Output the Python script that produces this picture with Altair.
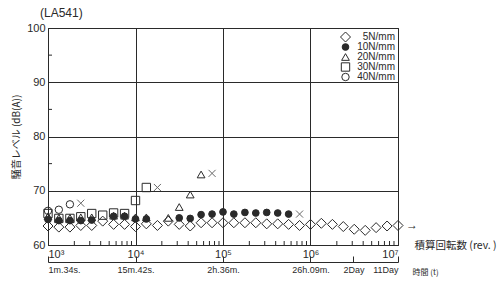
import altair as alt
import pandas as pd

# ---- data ----
rev = [1000, 1330, 1780, 2370, 3160, 4220, 5620, 7500,
       10000, 13300, 17800, 23700, 31600, 42200, 56200, 75000,
       100000, 133000, 178000, 237000, 316000, 422000, 562000, 750000,
       1000000, 1330000, 1780000, 2370000, 3160000, 4220000, 5620000, 7500000,
       10000000]

series_names = ["5N/mm", "10N/mm", "20N/mm", "30N/mm", "40N/mm"]

s5_idx = list(range(33))
s5_val = [63.5, 63.3, 63.3, 63.6, 63.6, 64.4, 63.8, 63.8, 63.4, 63.9, 63.6,
          64.4, 63.8, 63.5, 64.1, 64.1, 64.1, 64.1, 64.1, 64.1, 63.9, 63.9,
          63.8, 63.6, 63.8, 64.0, 63.8, 63.4, 62.9, 62.7, 63.2, 63.5, 63.6]
s10_idx = [0, 1, 2, 3, 4, 6, 7, 8, 9, 12, 13, 14, 15, 16, 17, 18, 19, 20, 21, 22]
s10_val = [64.7, 64.5, 64.5, 64.5, 64.6, 65.3, 65.3, 64.8, 64.8, 65.0, 64.9,
           65.6, 65.7, 66.1, 65.7, 66.0, 65.9, 66.0, 65.9, 65.7]
s20_idx = [0, 1, 2, 3, 4, 6, 7, 8, 9, 11, 12, 13, 14]
s20_val = [65.3, 65.0, 65.0, 65.1, 65.1, 65.4, 65.4, 65.1, 65.1, 65.0, 67.0, 69.3, 73.0]
s30_idx = [0, 1, 2, 3, 4, 5, 6, 7, 8, 9]
s30_val = [65.8, 64.9, 64.9, 65.2, 65.8, 65.5, 65.9, 65.8, 68.2, 70.6]
s40_idx = [0, 1, 2]
s40_val = [66.3, 66.5, 67.5]
# end points (x marks)
end_idx = [3, 10, 15, 23]
end_val = [67.7, 70.6, 73.2, 65.7]

x_major = [1000, 10000, 100000, 1000000, 10000000]
x_major_labels = ["10³", "10⁴", "10⁵", "10⁶", "10⁷"]
x_minor = [m * d for d in (1000, 10000, 100000, 1000000) for m in range(2, 10)]
y_major = [60, 70, 80, 90, 100]
y_minor = [65, 75, 85, 95]
time_vals = [1000, 10000, 100000, 1000000, 3100000, 10000000]
time_labels = ["1m.34s.", "15m.42s.", "2h.36m.", "26h.09m.", "2Day", "11Day"]

# ---- tables ----
rows = []
for name, idx, vals in [("40N/mm", s40_idx, s40_val), ("30N/mm", s30_idx, s30_val),
                        ("20N/mm", s20_idx, s20_val), ("10N/mm", s10_idx, s10_val),
                        ("5N/mm", s5_idx, s5_val)]:
    for i, v in zip(idx, vals):
        rows.append({"rev": rev[i], "db": v, "series": name,
                     "ord": series_names.index(name)})
df = pd.DataFrame(rows)
df_end = pd.DataFrame({"rev": [rev[i] for i in end_idx], "db": end_val})
df_arrow = pd.DataFrame({"rev": [rev[s5_idx[-1]]], "db": [s5_val[-1]]})
df_xminor = pd.DataFrame({"rev": x_minor})
df_yminor = pd.DataFrame({"db": y_minor})
df_time = pd.DataFrame({"rev": time_vals})

INK = "#2a2a2a"
LAT = "Liberation Sans"
CJK = "Noto Sans CJK JP"

xscale = alt.Scale(type="log", domain=[1000, 10000000], nice=False)
yscale = alt.Scale(domain=[60, 100], nice=False, zero=False)


def lab_expr(vals, labs):
    return "".join(f"datum.value == {v} ? '{l}' : " for v, l in zip(vals, labs)) + "''"


main_xaxis = alt.Axis(orient="bottom", values=x_major,
                      labelExpr=lab_expr(x_major, x_major_labels),
                      ticks=False, tickSize=0, grid=True, gridColor=INK, gridOpacity=1,
                      domainColor=INK, labelColor=INK, labelFont=LAT, labelFontSize=11,
                      labelPadding=3, title="積算回転数 (rev. )", titleFont=CJK,
                      titleFontSize=10.5, titleFontWeight="normal", titleColor=INK,
                      titleX=366, titleY=0, titleAlign="left", titleBaseline="middle",
                      titleAngle=0)
yaxis = alt.Axis(values=y_major, ticks=False, tickSize=0, grid=True, gridColor=INK,
                 gridOpacity=1, domainColor=INK, labelColor=INK, labelFont=LAT,
                 labelFontSize=11, labelPadding=3, title="騒音レベル (dB(A))",
                 titleFont=CJK, titleFontSize=10, titleFontWeight="normal",
                 titleColor=INK, titlePadding=5)
y_enc = alt.Y("db:Q", scale=yscale, axis=yaxis)

shape_range = ["diamond", "circle", "triangle-up", "square", "circle"]
fill_range = ["transparent", INK, "transparent", "transparent", "transparent"]
stroke_range = [INK, INK, INK, INK, INK]
size_range = [100, 45, 60, 70, 55]

legend = alt.Legend(orient="none", legendX=292, legendY=4, title=None,
                    labelFont=LAT, labelFontSize=10, labelColor=INK,
                    labelAlign="right", labelOffset=44, rowPadding=0, clipHeight=10,
                    symbolStrokeColor=INK, symbolStrokeWidth=1)

points = alt.Chart(df).mark_point(strokeWidth=1, opacity=1).encode(
    x=alt.X("rev:Q", scale=xscale, axis=main_xaxis),
    y=y_enc,
    shape=alt.Shape("series:N", scale=alt.Scale(domain=series_names, range=shape_range),
                    legend=legend),
    fill=alt.Fill("series:N", scale=alt.Scale(domain=series_names, range=fill_range),
                  legend=legend),
    stroke=alt.Stroke("series:N", scale=alt.Scale(domain=series_names, range=stroke_range),
                      legend=legend),
    size=alt.Size("series:N", scale=alt.Scale(type="ordinal", domain=series_names,
                                              range=size_range),
                  legend=legend),
    order=alt.Order("ord:Q", sort="descending"),
)

crosses = alt.Chart(df_end).mark_point(shape="M-1,-1L1,1M1,-1L-1,1", size=50,
                                       stroke=INK, strokeWidth=1, filled=False).encode(
    x=alt.X("rev:Q", scale=xscale, axis=None), y=y_enc)

arrow = alt.Chart(df_arrow).mark_text(text="→", dx=14, dy=0, font=LAT, fontSize=12,
                                      color=INK).encode(
    x=alt.X("rev:Q", scale=xscale, axis=None), y=y_enc)

xminor = alt.Chart(df_xminor).mark_rule(color=INK, strokeWidth=1).encode(
    x=alt.X("rev:Q", scale=xscale, axis=None),
    y=alt.value(217), y2=alt.value(213))

yminor = alt.Chart(df_yminor).mark_rule(color=INK, strokeWidth=1).encode(
    y=y_enc, x=alt.value(0), x2=alt.value(4))

time_ticks = alt.Chart(df_time).mark_point(opacity=0).encode(
    x=alt.X("rev:Q", scale=xscale,
            axis=alt.Axis(orient="bottom", values=time_vals,
                          labelExpr=lab_expr(time_vals, time_labels),
                          offset=11, domain=False, ticks=True, tickSize=6,
                          tickColor=INK, grid=False, labelFont=LAT, labelFontSize=9,
                          labelColor=INK, labelPadding=3, title=None)),
    y=y_enc)

time_line = alt.Chart(df_time).mark_point(opacity=0).encode(
    x=alt.X("rev:Q", scale=xscale,
            axis=alt.Axis(orient="bottom", offset=17, domain=True, domainColor=INK,
                          ticks=False, labels=False, grid=False, title="時間 (t)",
                          titleFont=CJK, titleFontSize=8, titleFontWeight="normal",
                          titleColor=INK, titleX=364, titleY=10, titleAlign="left",
                          titleBaseline="middle")),
    y=y_enc)

chart = alt.layer(xminor, yminor, points, crosses, arrow, time_ticks, time_line).resolve_axis(
    x="independent").properties(
    width=350, height=217,
    autosize=alt.AutoSizeParams(type="none"),
    padding={"left": 48, "top": 28, "right": 102, "bottom": 44},
    title=alt.TitleParams(text="(LA541)", anchor="start", frame="group", dx=-8,
                          offset=2, font=LAT, fontSize=12, fontWeight="normal",
                          color=INK),
    background="white",
).configure_view(stroke=INK, strokeWidth=1)

chart.save("out.html", embed_options={"renderer": "svg", "actions": False})
